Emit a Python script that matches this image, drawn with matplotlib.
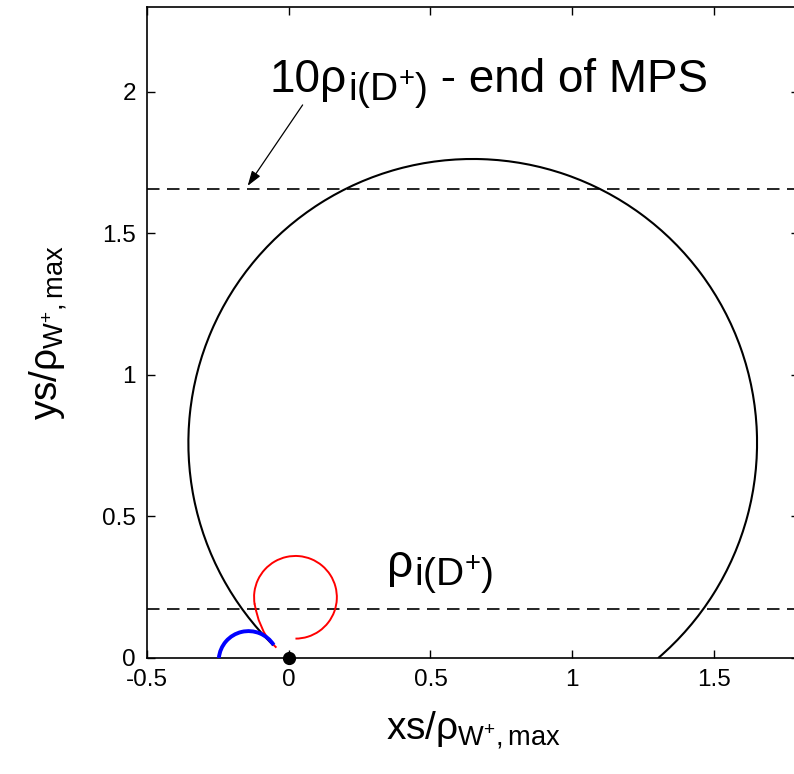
import matplotlib
matplotlib.use("Agg")
import matplotlib.pyplot as plt
from matplotlib.patches import Arc

plt.rcParams['font.family'] = ['Liberation Sans', 'DejaVu Sans']
plt.rcParams['mathtext.fontset'] = 'custom'
plt.rcParams['mathtext.rm'] = 'Liberation Sans'
plt.rcParams['mathtext.it'] = 'Liberation Sans'
plt.rcParams['mathtext.bf'] = 'Liberation Sans:bold'

# Black trajectory: near-circular orbit (centre, radius, start/end angle in degrees)
black_center = (0.649, 0.760)
black_radius = 1.003
black_angles = (-49.3, 225.5)

# Red trajectory: tail joining a circular loop
red_center = (0.0237, 0.2145)
red_radius = 0.146
red_angles = (-90.0, 190.0)
red_tail_x = [-0.046, -0.071, -0.088, -0.106, -0.116, -0.120]
red_tail_y = [0.039, 0.064, 0.092, 0.134, 0.170, 0.189]

# Blue trajectory: short arc
blue_center = (-0.142, -0.010)
blue_radius = 0.105
blue_angles = (32.0, 174.6)

# Start point
origin_x = [0.0]
origin_y = [0.0]

# Reference levels
rho_level = 0.172
mps_level = 1.657

xticks = [-0.5, 0, 0.5, 1, 1.5]
xticklabels = ['-0.5', '0', '0.5', '1', '1.5']
yticks = [0, 0.5, 1, 1.5, 2]
yticklabels = ['0', '0.5', '1', '1.5', '2']

fig = plt.figure(figsize=(7.94, 7.74), dpi=100)
ax = fig.add_axes([147/794, 116/774, 652/794, 651/774])

ax.add_patch(Arc(black_center, 2*black_radius, 2*black_radius,
                 theta1=black_angles[0], theta2=black_angles[1],
                 color='black', lw=1.5, zorder=2))
ax.add_patch(Arc(red_center, 2*red_radius, 2*red_radius,
                 theta1=red_angles[0], theta2=red_angles[1],
                 color='red', lw=1.4, zorder=3))
ax.plot(red_tail_x, red_tail_y, color='red', lw=1.4, zorder=3)
ax.add_patch(Arc(blue_center, 2*blue_radius, 2*blue_radius,
                 theta1=blue_angles[0], theta2=blue_angles[1],
                 color='blue', lw=2.8, zorder=4))
ax.plot(origin_x, origin_y, 'o', color='black', markersize=8.5, clip_on=False, zorder=5)

for lvl in (rho_level, mps_level):
    ln = ax.axhline(lvl, color='black', lw=1.2)
    ln.set_dashes([7.5, 4.5])

MAIN_FS = 33
SUB_FS = 28
SUB_DROP = -7  # points


def rho_label(x, y, prefix, suffix):
    t1 = ax.text(x, y, prefix + 'ρ', fontsize=MAIN_FS, ha='left', va='baseline')
    t2 = ax.annotate(r'$\mathrm{i(D^{+})}$', xy=(1, y), xycoords=(t1, 'data'),
                     xytext=(1, SUB_DROP), textcoords='offset points',
                     fontsize=SUB_FS, ha='left', va='baseline')
    if suffix:
        ax.annotate(suffix, xy=(1, y), xycoords=(t2, 'data'),
                    xytext=(0, 0), textcoords='offset points',
                    fontsize=MAIN_FS, ha='left', va='baseline')


rho_label(-0.068, 2.0, '10', ' - end of MPS')
rho_label(0.345, 0.286, '', '')

ax.annotate('', xy=(-0.145, 1.668), xytext=(0.049, 1.954),
            arrowprops=dict(arrowstyle='-|>,head_length=0.9,head_width=0.3', color='black',
                            lw=0.9, shrinkA=0, shrinkB=0))

ax.set_xlim(-0.5, 1.8)
ax.set_ylim(0, 2.3)
ax.set_xticks(xticks)
ax.set_xticklabels(xticklabels)
ax.set_yticks(yticks)
ax.set_yticklabels(yticklabels)
ax.tick_params(direction='in', length=6, width=1.0, labelsize=17.5, pad=8,
               top=True, right=True)
for s in ax.spines.values():
    s.set_linewidth(1.2)

ax.set_xlabel(r'xs/$\rho_{\mathrm{W^{+},max}}$', fontsize=28, labelpad=13)
ax.set_ylabel(r'ys/$\rho_{\mathrm{W^{+},max}}$', fontsize=28, labelpad=24)

fig.savefig('out.png', dpi=100)
